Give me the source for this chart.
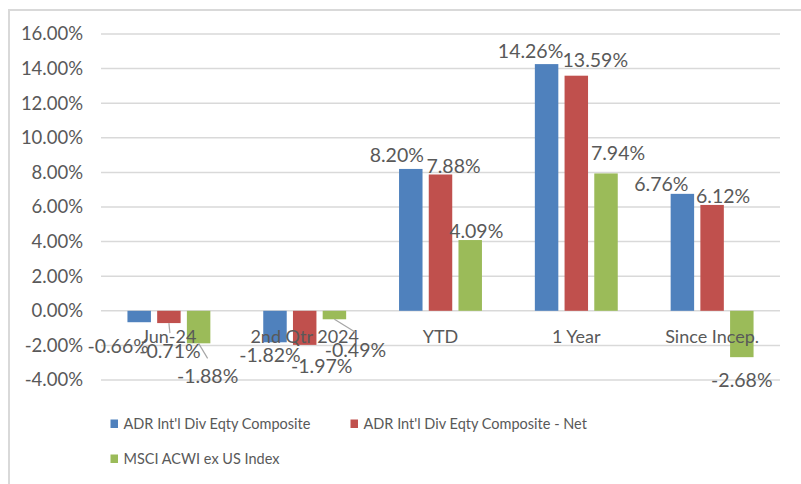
<!DOCTYPE html>
<html>
<head>
<meta charset="utf-8">
<script src="https://cdn.jsdelivr.net/npm/d3@7"></script>
<style>
  html, body { margin: 0; padding: 0; background: #fff; }
  text { font-family: Lato, "Liberation Sans", sans-serif; fill: #595959; }
</style>
</head>
<body>
<div id="chart"></div>
<script>
const categories = ['Jun-24', '2nd Qtr 2024', 'YTD', '1 Year', 'Since Incep.']
const seriesNames = [
  'ADR Int\'l Div Eqty Composite',
  'ADR Int\'l Div Eqty Composite - Net',
  'MSCI ACWI ex US Index',
]
const composite = [-0.66, -1.82, 8.20, 14.26, 6.76]
const compositeNet = [-0.71, -1.97, 7.88, 13.59, 6.12]
const msciAcwi = [-1.88, -0.49, 4.09, 7.94, -2.68]
const yTicks = [-4, -2, 0, 2, 4, 6, 8, 10, 12, 14, 16]
const colors = ['#4f81bd', '#c0504d', '#9bbb59']

// manual nudges of the data labels (dx, dy) from their default spot, plus leader flag
const labelNudges = [
  [[-21, 12, 0], [1, 16, 1], [9, 21, 1]],
  [[-5, 1, 0], [17, 9, 0], [21, 19, 1]],
  [[-14, -2, 0], [13, 4, 0], [6, 3, 0]],
  [[-16, -1, 0], [19, -4, 0], [12, -8, 0]],
  [[-21, 2, 0], [11, 3, 0], [0, 11, 0]],
]

const series = [composite, compositeNet, msciAcwi]

const canvasWidth = 801
const canvasHeight = 484
const plot = {left: 101, right: 780, top: 34, bottom: 380}

const svg = d3
  .select('#chart')
  .append('svg')
  .attr('width', canvasWidth)
  .attr('height', canvasHeight)

// outer chart border (runs off the right and bottom of the picture)
svg
  .append('rect')
  .attr('x', 9)
  .attr('y', 10)
  .attr('width', 820)
  .attr('height', 500)
  .attr('fill', '#fff')
  .attr('stroke', '#d9d9d9')
  .attr('stroke-width', 2)

const yScale = d3
  .scaleLinear()
  .domain([-4, 16])
  .range([plot.bottom, plot.top])

const x0 = d3
  .scaleBand()
  .domain(categories)
  .range([plot.left, plot.right])

const x1 = d3
  .scaleBand()
  .domain(d3.range(seriesNames.length))
  .range([0, x0.bandwidth()])
  .paddingInner(0.21)
  .paddingOuter(0.89)

// gridlines
svg
  .append('g')
  .selectAll('line')
  .data(yTicks)
  .enter()
  .append('line')
  .attr('x1', plot.left)
  .attr('x2', plot.right)
  .attr('y1', d => yScale(d))
  .attr('y2', d => yScale(d))
  .attr('stroke', '#d9d9d9')
  .attr('stroke-width', 1.5)

// y tick labels
svg
  .append('g')
  .selectAll('text')
  .data(yTicks)
  .enter()
  .append('text')
  .attr('x', 83)
  .attr('y', d => yScale(d))
  .attr('dy', '0.35em')
  .attr('text-anchor', 'end')
  .attr('font-size', 18.5)
  .text(d => d.toFixed(2) + '%')

// bars
const rows = []
categories.forEach((c, ci) => {
  series.forEach((vals, si) => {
    rows.push({c, ci, si, v: vals[ci]})
  })
})

svg
  .append('g')
  .selectAll('rect')
  .data(rows)
  .enter()
  .append('rect')
  .attr('x', d => x0(d.c) + x1(d.si))
  .attr('width', x1.bandwidth())
  .attr('y', d => yScale(Math.max(0, d.v)))
  .attr('height', d => Math.abs(yScale(d.v) - yScale(0)))
  .attr('fill', d => colors[d.si])

// category labels, sitting just below the zero line
svg
  .append('g')
  .selectAll('text')
  .data(categories)
  .enter()
  .append('text')
  .attr('x', d => x0(d) + x0.bandwidth() / 2)
  .attr('y', yScale(0) + 26)
  .attr('dy', '0.35em')
  .attr('text-anchor', 'middle')
  .attr('font-size', 18)
  .text(d => d)

// data labels
const labelPos = d => {
  const [dx, dy] = labelNudges[d.ci][d.si]
  const cx = x0(d.c) + x1(d.si) + x1.bandwidth() / 2
  const cy = d.v >= 0 ? yScale(d.v) - 12 : yScale(d.v) + 12
  return [cx + dx, cy + dy]
}

svg
  .append('g')
  .selectAll('line')
  .data(rows.filter(d => labelNudges[d.ci][d.si][2]))
  .enter()
  .append('line')
  .attr('x1', d => x0(d.c) + x1(d.si) + x1.bandwidth() / 2)
  .attr('y1', d => yScale(d.v))
  .attr('x2', d => labelPos(d)[0])
  .attr('y2', d => labelPos(d)[1] - 18)
  .attr('stroke', '#a6a6a6')
  .attr('stroke-width', 1.2)

svg
  .append('g')
  .selectAll('text')
  .data(rows)
  .enter()
  .append('text')
  .attr('x', d => labelPos(d)[0])
  .attr('y', d => labelPos(d)[1])
  .attr('dy', '0.35em')
  .attr('text-anchor', 'middle')
  .attr('font-size', 19.5)
  .text(d => d.v.toFixed(2) + '%')

// legend
const legendItems = [
  {name: seriesNames[0], color: colors[0], x: 110.5, y: 424},
  {name: seriesNames[1], color: colors[1], x: 350.5, y: 424},
  {name: seriesNames[2], color: colors[2], x: 110.5, y: 459},
]

const legend = svg
  .append('g')
  .selectAll('g')
  .data(legendItems)
  .enter()
  .append('g')
  .attr('transform', d => `translate(${d.x}, ${d.y})`)

legend
  .append('rect')
  .attr('x', 0)
  .attr('y', -4.5)
  .attr('width', 7.5)
  .attr('height', 8.5)
  .attr('fill', d => d.color)

legend
  .append('text')
  .attr('x', 13)
  .attr('y', 0)
  .attr('dy', '0.35em')
  .attr('font-size', 14.5)
  .text(d => d.name)
</script>
</body>
</html>
